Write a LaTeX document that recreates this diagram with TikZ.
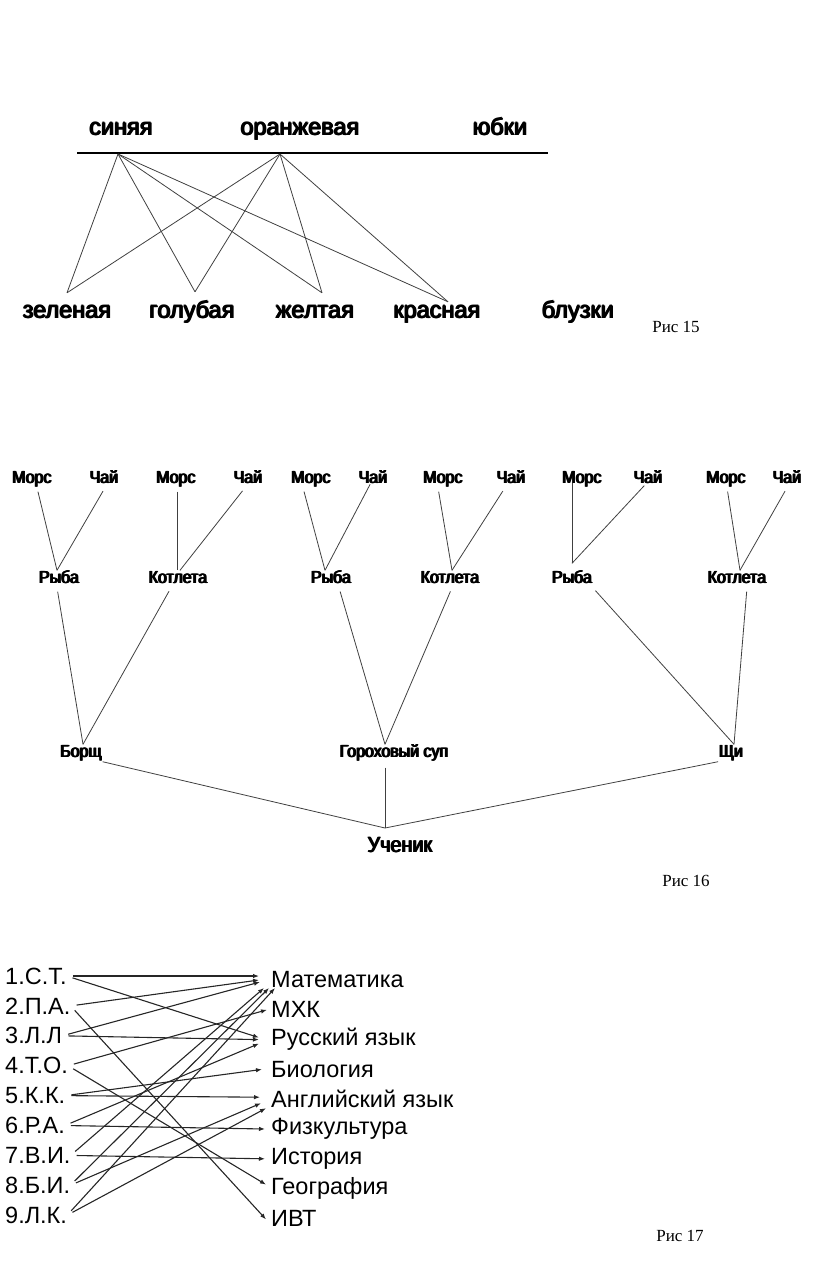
\documentclass[tikz,border=0pt]{standalone}
\usepackage{fontspec}
\setmainfont{Liberation Serif}
\font\wordfont="Liberation Sans:extend=1.0" at 23.5pt
\font\menufont="Liberation Sans:extend=0.91" at 17.5pt
\font\pupilfont="Liberation Sans:extend=0.9" at 22pt
\newfontfamily\listfont{Liberation Sans}
% heavy strokes: the same text set several times, slightly shifted
\newcommand\heavy[1]{\rlap{#1}\rlap{\kern0.5pt\raise0.4pt\hbox{#1}}%
    \rlap{\kern1pt#1}\kern1.5pt#1}
\usetikzlibrary{arrows.meta}
\colorlet{thin line}{black!75}
\colorlet{arrow line}{black!85}
\tikzset{word/.style={inner sep=0pt, text height=14pt, text depth=0pt,
        font=\wordfont},
    dish/.style={inner sep=0pt, text height=13pt, text depth=4pt,
        font=\menufont},
    pupil/.style={inner sep=0pt, font=\pupilfont},
    person/.style={anchor=west, inner sep=0pt, font=\listfont\fontsize{23.5}{26}\selectfont},
    subject/.style={anchor=west, inner sep=0pt, font=\listfont\fontsize{23.5}{26}\selectfont},
    caption/.style={inner sep=0pt, font=\fontsize{17}{20}\selectfont},
    pair/.style={draw=thin line, line width=0.8pt},
    stem/.style={draw=thin line, line width=0.8pt, shorten <=4pt},
    choice/.style={draw=arrow line, line width=1.1pt, shorten <=6pt,
        -{Latex[length=6pt,width=4.5pt]}}}

\begin{document}
\begin{tikzpicture}[x=1pt, y=-1pt]
    \useasboundingbox (0,0) rectangle (816,1270);

    % Рис 15
    \node[word] (blue)   at (121,128) {\heavy{синяя}};
    \node[word] (orange) at (300,128) {\heavy{оранжевая}};
    \node[word] (skirts) at (500,128) {\heavy{юбки}};
    \draw[line width=1.5pt] (77,153) -- (548,153);
    \coordinate (sj) at (118,154);
    \coordinate (oj) at (280,154);
    \node[word] (green)     at (67,311)  {\heavy{зеленая}};
    \node[word] (lightblue) at (192,311) {\heavy{голубая}};
    \node[word] (yellow)    at (315,311) {\heavy{желтая}};
    \node[word] (red)       at (437,311) {\heavy{красная}};
    \node[word] (blouses)   at (578,311) {\heavy{блузки}};
    \foreach \j in {sj, oj} {
        \draw[pair] (\j) -- ([yshift=11pt]green.north);
        \draw[pair] (\j) -- ([xshift=3pt,yshift=12pt]lightblue.north);
        \draw[pair] (\j) -- ([xshift=7pt,yshift=11pt]yellow.north);
        \draw[pair] (\j) -- ([xshift=11pt,yshift=2pt]red.north);
    }
    \node[caption] (cap15) at (676,327) {Рис 15};

    % Рис 16
    \node[dish] (m1) at (32,479)  {\heavy{Морс}};
    \node[dish] (c1) at (104,479) {\heavy{Чай}};
    \node[dish] (m2) at (176,479) {\heavy{Морс}};
    \node[dish] (c2) at (248,479) {\heavy{Чай}};
    \node[dish] (m3) at (311,479) {\heavy{Морс}};
    \node[dish] (c3) at (373,479) {\heavy{Чай}};
    \node[dish] (m4) at (443,479) {\heavy{Морс}};
    \node[dish] (c4) at (511,479) {\heavy{Чай}};
    \node[dish] (m5) at (582,479) {\heavy{Морс}};
    \node[dish] (c5) at (648,479) {\heavy{Чай}};
    \node[dish] (m6) at (726,479) {\heavy{Морс}};
    \node[dish] (c6) at (787,479) {\heavy{Чай}};
    \node[dish] (f1) at (59,579)  {\heavy{Рыба}};
    \node[dish] (k1) at (178,579) {\heavy{Котлета}};
    \node[dish] (f2) at (331,579) {\heavy{Рыба}};
    \node[dish] (k2) at (450,579) {\heavy{Котлета}};
    \node[dish] (f3) at (572,579) {\heavy{Рыба}};
    \node[dish] (k3) at (737,579) {\heavy{Котлета}};
    \node[dish] (borsch) at (81,753)  {\heavy{Борщ}};
    \node[dish] (peas)   at (394,753) {\heavy{Гороховый суп}};
    \node[dish] (shchi)  at (731,753) {\heavy{Щи}};
    \node[pupil] (pupil) at (400,845) {\heavy{Ученик}};
    \coordinate (meet) at (385,828);

    \draw[stem] ([xshift=5pt]m1.south)  -- ([xshift=-2pt]f1.north);
    \draw[stem] ([xshift=1pt]c1.south)  -- ([xshift=-2pt]f1.north);
    \draw[stem] ([xshift=1pt]m2.south)  -- ([xshift=-1pt]k1.north);
    \draw[stem] ([xshift=-3pt]c2.south) -- ([xshift=2pt]k1.north);
    \draw[stem] ([xshift=-8pt]m3.south) -- ([xshift=-6pt]f2.north);
    \draw[stem] ([xshift=-1pt,yshift=7pt]c3.south) -- ([xshift=-6pt]f2.north);
    \draw[stem] ([xshift=-5pt]m4.south) -- ([xshift=2pt]k2.north);
    \draw[stem] ([xshift=-6pt]c4.south) -- ([xshift=2pt]k2.north);
    \draw[stem] ([xshift=-10pt,yshift=9pt]m5.south) -- ([yshift=7pt]f3.north);
    \draw[stem] ([xshift=-1pt,yshift=5pt]c5.south)  -- ([yshift=7pt]f3.north);
    \draw[stem] ([xshift=1pt]m6.south)  -- ([xshift=3pt]k3.north);
    \draw[stem] (c6.south)              -- ([xshift=3pt]k3.north);

    \draw[stem] ([xshift=-2pt]f1.south) -- ([xshift=2pt]borsch.north);
    \draw[stem] ([xshift=-7pt]k1.south) -- ([xshift=2pt]borsch.north);
    \draw[stem] ([xshift=8pt]f2.south)  -- ([xshift=-9pt]peas.north);
    \draw[stem] ([xshift=2pt]k2.south)  -- ([xshift=-9pt]peas.north);
    \draw[stem] (f3.south east)         -- ([xshift=3pt]shchi.north);
    \draw[stem] ([xshift=10pt]k3.south) -- ([xshift=3pt]shchi.north);

    \draw[pair] (borsch.south east) -- (meet);
    \draw[pair] ([xshift=-9pt,yshift=-6pt]peas.south) -- (meet);
    \draw[pair] (shchi.south west) -- (meet);
    \node[caption] (cap16) at (686,881) {Рис 16};

    % Рис 17
    \foreach \who [count=\i] in {1.С.Т., 2.П.А., 3.Л.Л, 4.Т.О., 5.К.К.,
        6.Р.А., 7.В.И., 8.Б.И., 9.Л.К.}
        \node[person] (s\i) at (5,{976+29.9*(\i-1)}) {\who};
    \foreach \what [count=\i] in {Математика, МХК, Русский язык, Биология,
        Английский язык, Физкультура, История, География, ИВТ}
        \node[subject] (t\i) at (271,{980+29.8*(\i-1)}) {\what};

    \draw[choice] (s1.east) -- ([xshift=-12pt,yshift=4pt]t1.west);
    \draw[choice] (s1.east) -- ([xshift=-12pt,yshift=2pt]t3.west);
    \draw[choice] (s2.east) -- ([xshift=-12pt,yshift=0pt]t1.west);
    \draw[choice] (s2.east) -- ([xshift=-5pt,yshift=-1pt]t9.west);
    \draw[choice] (s3.east) -- ([xshift=-11pt,yshift=-2pt]t1.west);
    \draw[choice] (s3.east) -- ([xshift=-12pt,yshift=0pt]t3.west);
    \draw[choice] (s4.east) -- ([xshift=-4pt,yshift=0pt]t2.west);
    \draw[choice] (s4.east) -- ([xshift=-5pt,yshift=4pt]t8.west);
    \draw[choice] (s5.east) -- ([xshift=-9pt,yshift=0pt]t4.west);
    \draw[choice] (s5.east) -- ([xshift=-11pt,yshift=2pt]t5.west);
    \draw[choice] (s6.east) -- ([xshift=-12pt,yshift=-4pt]t3.west);
    \draw[choice] (s6.east) -- ([xshift=-6pt,yshift=0pt]t6.west);
    \draw[choice] (s7.east) -- ([xshift=-7pt,yshift=-8pt]t1.west);
    \draw[choice] (s7.east) -- ([xshift=-6pt,yshift=0pt]t7.west);
    \draw[choice] (s8.east) -- ([xshift=-2pt,yshift=-8pt]t1.west);
    \draw[choice] (s8.east) -- ([xshift=-10pt,yshift=-4pt]t5.west);
    \draw[choice] (s9.east) -- ([xshift=4pt,yshift=-8pt]t1.west);
    \draw[choice] (s9.east) -- ([xshift=-5pt,yshift=-9pt]t5.west);
    \node[caption] (cap17) at (680,1236) {Рис 17};
\end{tikzpicture}
\end{document}
